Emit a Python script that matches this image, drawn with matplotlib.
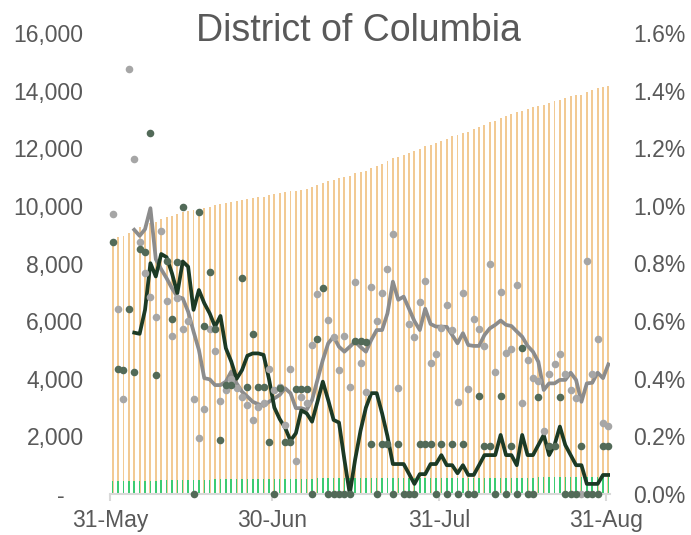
import numpy as np
import matplotlib
matplotlib.use('Agg')
from matplotlib import pyplot as plt

plt.rcParams['font.family'] = ['Liberation Sans', 'DejaVu Sans']

nan = np.nan
days = np.arange(93)          # 0 = 31-May ... 92 = 31-Aug
tick_days = [0, 30, 61, 92]
tick_labels = ['31-May', '30-Jun', '31-Jul', '31-Aug']

# cumulative cases (left axis)
cases = [8857, 8914, 8943, 9075, 9181, 9261, 9332, 9396, 9454, 9540,
         9604, 9657, 9723, 9779, 9838, 9870, 9889, 9918, 9975, 10025,
         10057, 10093, 10133, 10170, 10204, 10235, 10261, 10292, 10325, 10370,
         10407, 10446, 10471, 10516, 10528, 10564, 10598, 10653, 10727, 10781,
         10846, 10905, 10952, 11012, 11053, 11135, 11186, 11226, 11307, 11375,
         11454, 11544, 11648, 11691, 11773, 11842, 11906, 11985, 12074, 12129,
         12188, 12258, 12338, 12408, 12448, 12535, 12581, 12657, 12729, 12794,
         12896, 12951, 13042, 13106, 13172, 13268, 13310, 13372, 13425, 13478,
         13507, 13564, 13625, 13691, 13748, 13797, 13843, 13843, 13955, 14013,
         14088, 14123, 14156]

# cumulative deaths (left axis)
deaths = [440, 442, 444, 447, 449, 453, 457, 463, 465, 469,
          473, 476, 480, 485, 489, 489, 494, 497, 501, 504,
          505, 507, 509, 511, 515, 517, 520, 522, 524, 525,
          525, 527, 528, 529, 531, 533, 535, 535, 538, 542,
          542, 542, 542, 542, 542, 545, 548, 551, 552, 552,
          553, 554, 554, 555, 555, 555, 555, 556, 557, 558,
          558, 559, 559, 560, 560, 561, 561, 561, 563, 564,
          565, 565, 567, 567, 568, 568, 571, 571, 571, 573,
          574, 575, 576, 578, 578, 578, 578, 579, 579, 579,
          579, 580, 581]

# daily growth of cases, % (right axis)
case_growth = [0.971, 0.641, 0.329, 1.476, 1.164, 0.874, 0.766, 0.685, 0.616, 0.912,
               0.670, 0.550, 0.679, 0.574, 0.601, 0.329, 0.194, 0.296, 0.572, 0.498,
               0.324, 0.361, 0.400, 0.367, 0.338, 0.308, 0.257, 0.303, 0.317, 0.433,
               0.360, 0.370, 0.240, 0.435, 0.115, 0.338, 0.317, 0.517, 0.695, nan,
               0.604, 0.546, 0.430, 0.549, 0.370, 0.737, 0.456, 0.353, 0.718, 0.602,
               0.697, 0.781, 0.902, 0.367, nan, 0.589, 0.544, 0.666, 0.740, 0.456,
               0.487, 0.575, 0.656, 0.569, 0.320, 0.697, 0.365, 0.607, 0.572, 0.514,
               0.798, 0.425, 0.700, 0.490, 0.503, 0.726, 0.315, 0.465, 0.402, 0.392,
               0.220, 0.416, 0.450, 0.486, 0.417, 0.361, 0.332, 0.000, 0.810, 0.416,
               0.537, 0.245, 0.236]

# daily growth of deaths, % (right axis)
death_growth = [0.873, 0.433, 0.431, 0.643, 0.425, 0.850, 0.841, 1.252, 0.412, nan,
                0.810, 0.607, 0.805, 0.995, nan, 0.0, 0.978, 0.583, 0.770, 0.572,
                0.189, 0.380, 0.378, nan, 0.751, 0.370, 0.557, 0.370, 0.370, 0.182,
                0.0, 0.367, 0.182, 0.182, 0.365, 0.365, 0.365, 0.0, 0.537, 0.714,
                0.0, 0.0, 0.0, 0.0, 0.0, 0.532, 0.530, 0.528, 0.173, 0.0,
                0.173, 0.173, 0.0, 0.173, 0.0, 0.0, 0.0, 0.173, 0.173, 0.173,
                0.0, 0.173, 0.0, 0.173, 0.0, 0.173, 0.0, 0.0, 0.340, 0.168,
                0.168, 0.0, 0.340, 0.0, 0.168, 0.0, 0.508, 0.0, 0.0, 0.336,
                nan, 0.168, 0.168, 0.336, 0.0, 0.0, 0.0, 0.168, 0.0, 0.0,
                0.0, 0.168, 0.168]

# 7-day averages, from 4-Jun
case_avg = [0.917, 0.896, 0.919, 0.992, 0.815, 0.780,
            0.749, 0.714, 0.685, 0.679, 0.633, 0.564, 0.500, 0.402, 0.398, 0.378,
            0.378, 0.390, 0.425, 0.384, 0.355, 0.338, 0.320, 0.312, 0.306, 0.320,
            0.332, 0.344, 0.367, 0.350, 0.298, 0.298, 0.292, 0.326, 0.396, 0.465,
            0.523, 0.546, 0.511, 0.494, 0.511, 0.529, 0.510, 0.494, 0.535, 0.569,
            0.569, 0.627, 0.737, 0.674, 0.685, 0.643, 0.600, 0.569, 0.643, 0.590,
            0.581, 0.581, 0.580, 0.552, 0.523, 0.558, 0.517, 0.514, 0.514, 0.552,
            0.575, 0.587, 0.602, 0.587, 0.583, 0.564, 0.546, 0.514, 0.494, 0.459,
            0.361, 0.384, 0.384, 0.396, 0.396, 0.421, 0.396, 0.320, 0.384, 0.386,
            0.421, 0.402, 0.450]
death_avg = [0.560, 0.556, 0.639, 0.801, 0.755, 0.833,
             0.822, 0.766, 0.697, 0.807, 0.789, 0.639, 0.708, 0.662, 0.627, 0.581,
             0.618, 0.506, 0.460, 0.400, 0.430, 0.480, 0.488, 0.488, 0.483, 0.400,
             0.300, 0.260, 0.230, 0.185, 0.211, 0.290, 0.280, 0.251, 0.320, 0.390,
             0.326, 0.257, 0.248, 0.120, 0.000, 0.120, 0.220, 0.300, 0.350, 0.350,
             0.280, 0.200, 0.104, 0.104, 0.104, 0.070, 0.035, 0.069, 0.069, 0.104,
             0.104, 0.135, 0.100, 0.100, 0.072, 0.100, 0.066, 0.066, 0.100, 0.135,
             0.135, 0.135, 0.205, 0.135, 0.135, 0.100, 0.205, 0.135, 0.135, 0.170,
             0.205, 0.135, 0.170, 0.234, 0.170, 0.135, 0.100, 0.100, 0.035, 0.035,
             0.035, 0.066, 0.066]
avg_days = days[4:]

text_col = '#595959'
fs = 16.5

fig = plt.figure(figsize=(6.91, 5.35), dpi=100)
ax = fig.add_axes([110/691, 1-494/535, 500/691, 461/535])

ax.bar(days, cases, width=0.36, color='#F2CA94', zorder=1)
ax.bar(days, deaths, width=0.28, color='#3CCB72', zorder=2)
ax.set_xlim(-0.5, 92.3)
ax.set_ylim(0, 16000)
yt = np.arange(0, 16001, 2000)
ax.set_yticks(yt)
ax.set_yticklabels(['-   '] + [f'{v:,}' for v in yt[1:]])
ax.set_xticks([d - 0.45 for d in tick_days])
ax.set_xticklabels(tick_labels)

for s in ['top', 'left', 'right']:
    ax.spines[s].set_visible(False)
ax.spines['bottom'].set_color('#D9D9D9')
ax.spines['bottom'].set_linewidth(1.5)
ax.tick_params(axis='y', length=0, pad=19, labelsize=fs, labelcolor=text_col)
ax.tick_params(axis='x', length=5, width=1.5, color='#D9D9D9', pad=6,
               labelsize=fs, labelcolor=text_col)

ax2 = ax.twinx()
ax2.plot(avg_days, case_avg, color='#8C8C8C', lw=2.7, zorder=2)
ax2.plot(avg_days, death_avg, color='#1C3A25', lw=2.7, zorder=2)
ax2.scatter(days, case_growth, s=30, color='#A6A6A6', linewidths=0, zorder=3, clip_on=False)
ax2.scatter(days, death_growth, s=30, color='#526A58', linewidths=0, zorder=3, clip_on=False)
ax2.set_ylim(0, 1.6)
pt = np.arange(0, 9) * 0.2
ax2.set_yticks(pt)
ax2.set_yticklabels([f'{v:.1f}%' for v in pt])
for s in ax2.spines.values():
    s.set_visible(False)
ax2.tick_params(axis='y', length=0, pad=17, labelsize=fs, labelcolor=text_col)

fig.text(358/691, 1-41/535, 'District of Columbia', ha='center', va='baseline',
         fontsize=27, color=text_col)

fig.savefig('out.png', dpi=100)
